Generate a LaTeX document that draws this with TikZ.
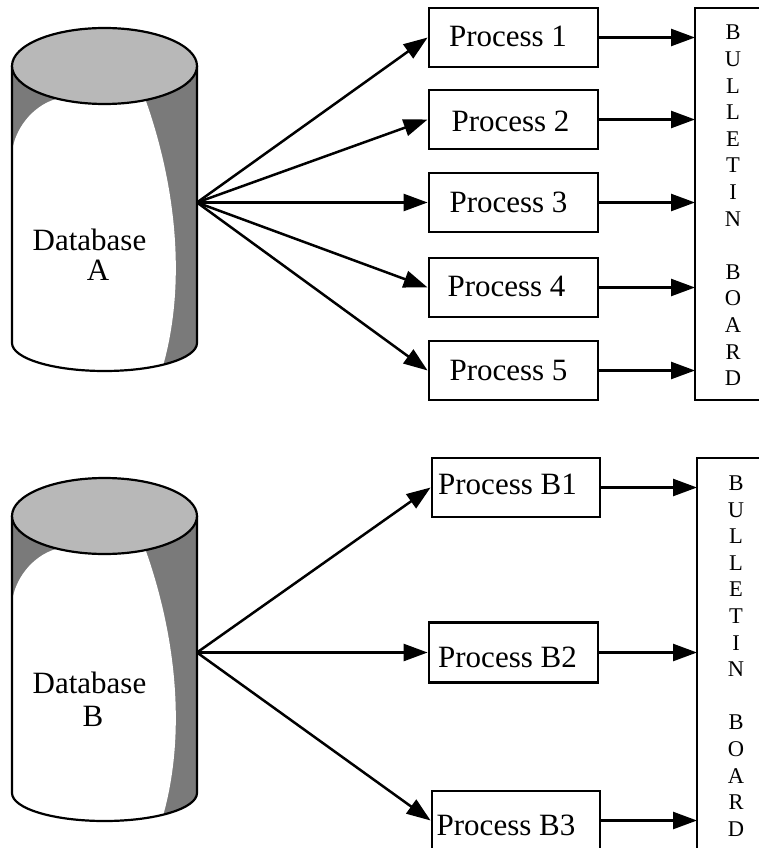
\documentclass[tikz,border=0pt]{standalone}
\usepackage{fontspec}
\setmainfont{Liberation Serif}
\usetikzlibrary{arrows.meta}
\colorlet{dbside}{black!52}
\colorlet{dbtop}{black!28}
\tikzset{
  dbline/.style={line width=2.2pt},
  pbox/.style={draw, line width=2.8pt, minimum width=169pt, minimum height=59pt, inner sep=0pt},
  ptext/.style={font=\fontsize{31}{35}\selectfont, inner sep=0pt, anchor=base},
  dbtext/.style={font=\fontsize{31}{35}\selectfont, inner sep=0pt, anchor=base},
  board/.style={minimum width=110pt, minimum height=392pt, inner sep=0pt, outer sep=0pt, anchor=north west},
  boardline/.style={line width=2.8pt, line cap=rect},
  bbtext/.style={font=\fontsize{22.5}{26.6}\selectfont, align=center, inner sep=0pt},
  arr/.style={line width=2.5pt, -{Triangle[length=24pt,width=17pt]}}
}
\newcommand\mydbbody{(12,66) -- (12,343) .. controls (12,358.5) and (53.4,371) .. (104.5,371) .. controls (155.6,371) and (197,358.5) .. (197,343) -- (197,66) -- cycle}
\newcommand\drawmydb[2]{%
\begin{scope}[shift={(0,#1)}]
  \fill[dbside] \mydbbody;
  \begin{scope}
    \clip \mydbbody;
    \fill[white] (12,153) .. controls (14,130) and (32,106) .. (56,99) -- (143,93)
      .. controls (170,165) and (190,270) .. (163,366) -- (163,400) -- (0,400) -- (0,153) -- cycle;
  \end{scope}
  \draw[dbline] (12,66) -- (12,343) .. controls (12,358.5) and (53.4,371) .. (104.5,371)
      .. controls (155.6,371) and (197,358.5) .. (197,343) -- (197,66);
  \draw[dbline, fill=dbtop] (104.5,66) ellipse [x radius=92.5, y radius=38];
  \coordinate (#2) at (197,202.5);
\end{scope}}
\begin{document}
\begin{tikzpicture}[x=1pt, y=-1pt]
\useasboundingbox (0,0) rectangle (759,848);
\fill[white] (0,0) rectangle (759,848);

% ---------- group A ----------
\drawmydb{0}{srcA}
\node[dbtext] (dbAt1) at (89.5,250) {Database};
\node[dbtext] (dbAt2) at (98,280) {A};

\node[pbox] (p1) at (513.5,37.5) {};
\node[pbox] (p2) at (513.5,119.5) {};
\node[pbox] (p3) at (513.5,202.5) {};
\node[pbox] (p4) at (513.5,287.5) {};
\node[pbox] (p5) at (513.5,370.5) {};
\node[ptext] (t1) at (508,47) {Process 1};
\node[ptext] (t2) at (510.5,131.5) {Process 2};
\node[ptext] (t3) at (508.5,212) {Process 3};
\node[ptext] (t4) at (506.5,296.5) {Process 4};
\node[ptext] (t5) at (508.5,380) {Process 5};

\node[board] (bbA) at (695,8) {};
\draw[boardline] (bbA.north east) -- (bbA.north west) -- (bbA.south west) -- (bbA.south east);
\node[bbtext] (lettersA) at (733,205.5) {B\\U\\L\\L\\E\\T\\I\\N\\~\\B\\O\\A\\R\\D};

\foreach \p in {p1,p2,p3,p4,p5}{
  \draw[arr] (srcA) -- (\p.west);
  \draw[arr] (\p.east) -- (\p.east -| bbA.west);
}

% ---------- group B ----------
\drawmydb{450}{srcB}
\node[dbtext] (dbBt1) at (89.5,693) {Database};
\node[dbtext] (dbBt2) at (93,726) {B};

\node[pbox, minimum width=168pt] (b1) at (516,487.5) {};
\node[pbox, minimum height=60pt] (b2) at (513.5,652.5) {};
\node[pbox, minimum width=168pt] (b3) at (516,820.5) {};
\node[ptext] (tb1) at (507.5,494) {Process B1};
\node[ptext] (tb2) at (507.5,667) {Process B2};
\node[ptext] (tb3) at (506,835) {Process B3};

\node[board, minimum height=420pt] (bbB) at (697,458) {};
\draw[boardline] (bbB.north east) -- (bbB.north west) -- (bbB.south west);
\node[bbtext] (lettersB) at (736,656) {B\\U\\L\\L\\E\\T\\I\\N\\~\\B\\O\\A\\R\\D};

\draw[arr] (srcB) -- (b1.west);
\draw[arr] (srcB) -- (b2.west);
\draw[arr] (srcB) -- (b3.west);
\foreach \p in {b1,b2,b3}{
  \draw[arr] (\p.east) -- (\p.east -| bbB.west);
}
\end{tikzpicture}
\end{document}
